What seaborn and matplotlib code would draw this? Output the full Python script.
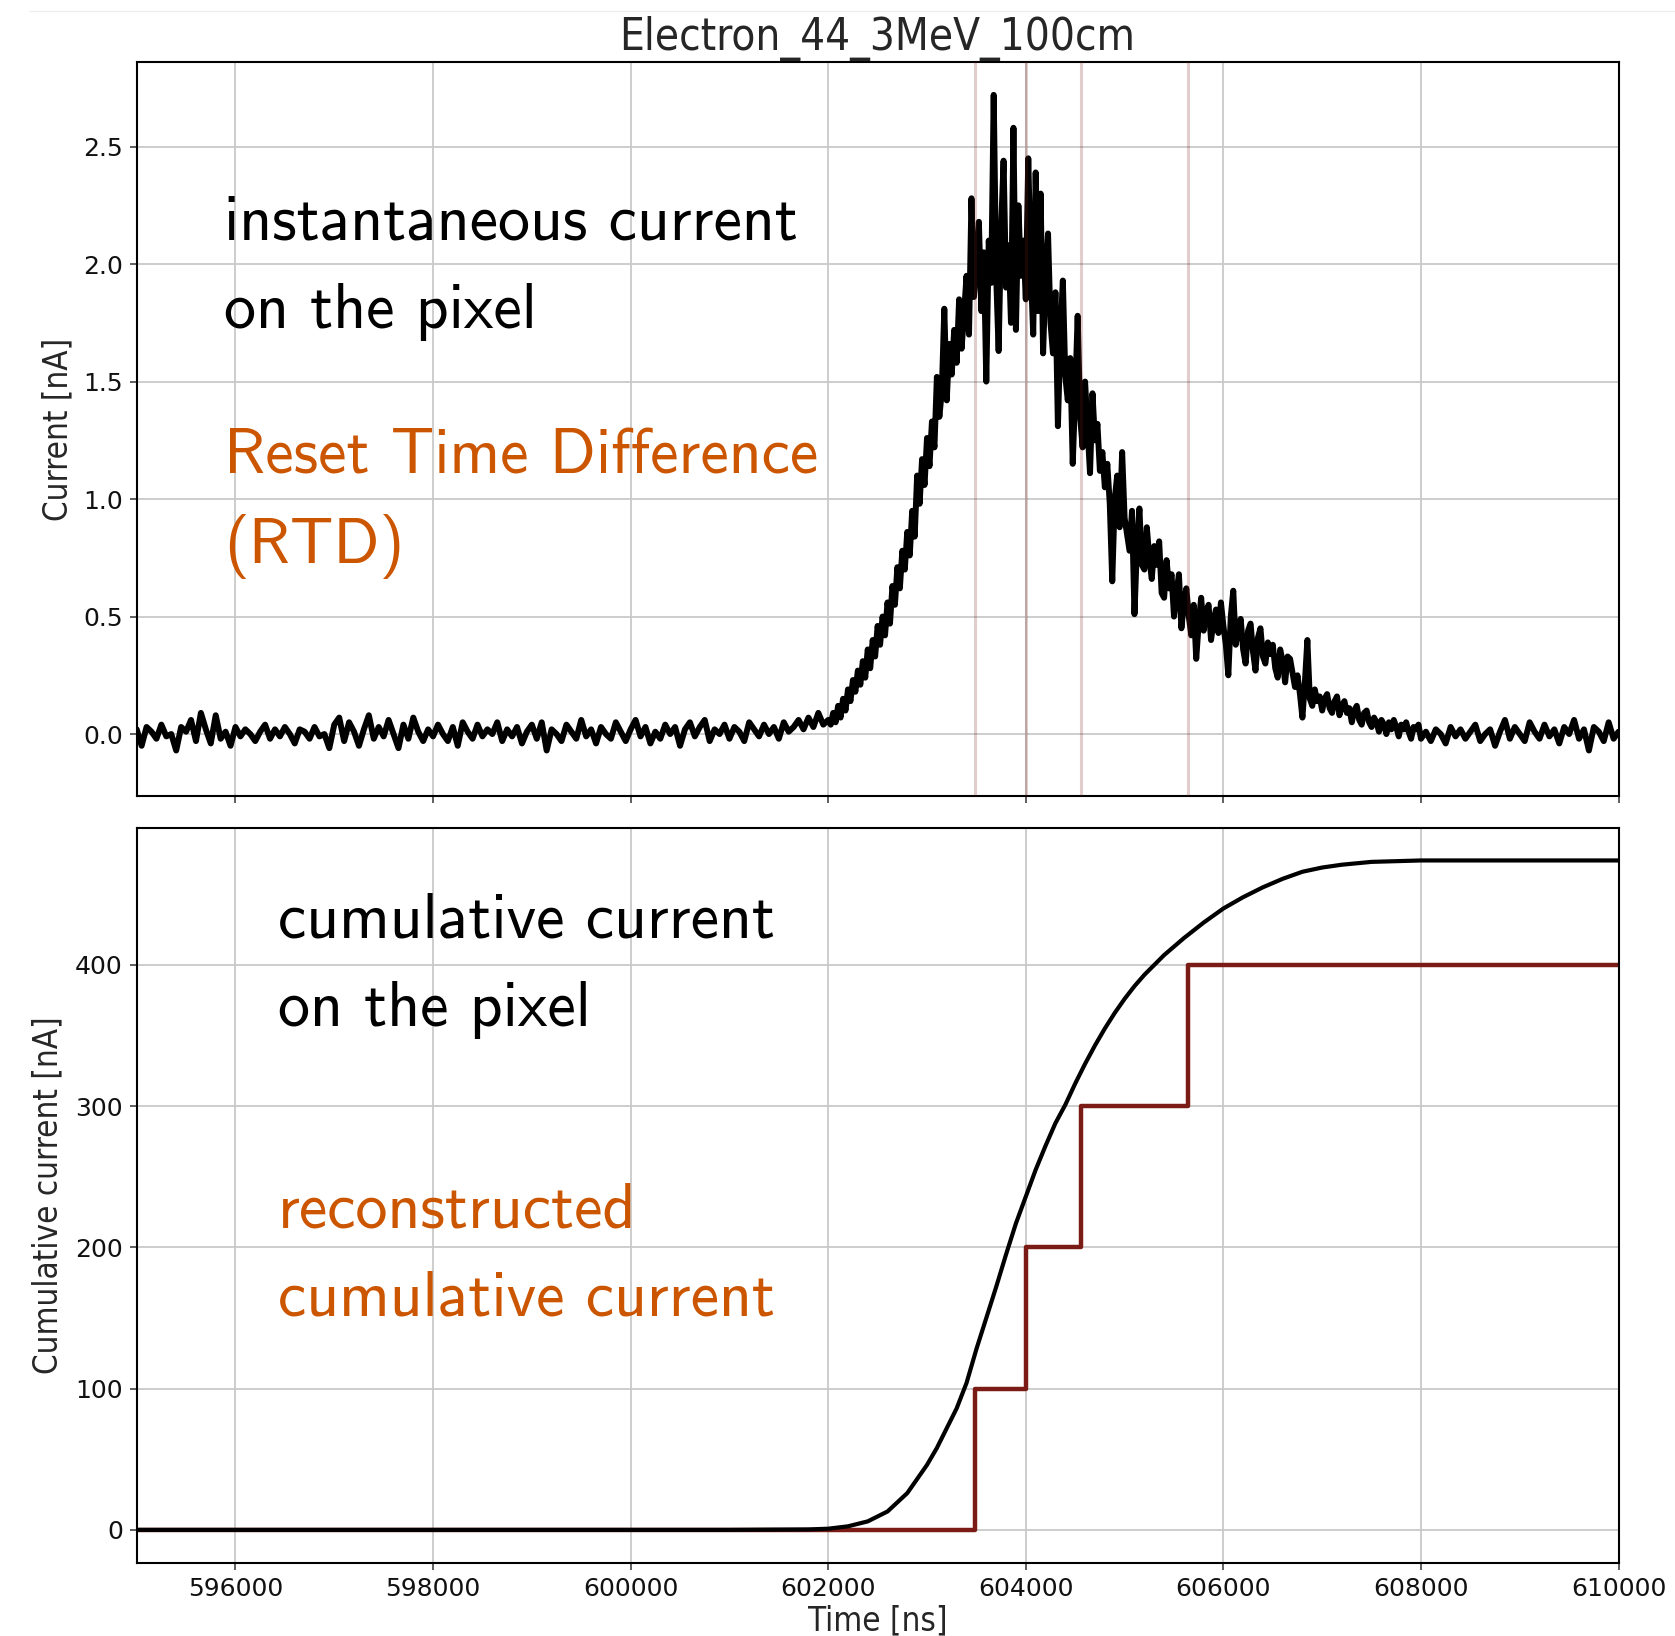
import numpy as np
import pandas as pd
import matplotlib
matplotlib.use("Agg")
import matplotlib.pyplot as plt
import seaborn as sns
from matplotlib.lines import Line2D

# ---------------------------------------------------------------- data
TITLE = "Electron_44_3MeV_100cm"

# sampling of the three parts of the trace [ns]
T_START = 595000      # first baseline sample
T_PULSE = 602000      # pulse part starts after this time
T_TAIL = 608000       # tail baseline starts after this time
DT_BASE = 50
DT_PULSE = 25

# instantaneous current [nA], quiet baseline before the pulse (595000 - 602000 ns)
current_before = [
    0.02, -0.05, 0.03, 0.01, -0.02, 0.04, -0.01, 0.00, -0.07, 0.03,
    0.01, 0.06, -0.03, 0.09, 0.02, -0.04, 0.08, -0.02, 0.01, -0.05,
    0.03, -0.01, 0.02, 0.00, -0.03, 0.01, 0.04, -0.02, 0.02, -0.01,
    0.03, 0.00, -0.04, 0.02, 0.01, -0.02, 0.03, -0.01, 0.00, -0.06,
    0.04, 0.07, -0.03, 0.05, 0.01, -0.05, 0.02, 0.08, -0.02, 0.03,
    -0.01, 0.06, 0.00, -0.06, 0.04, -0.02, 0.07, 0.01, -0.03, 0.02,
    -0.01, 0.04, 0.00, -0.03, 0.03, -0.05, 0.05, 0.01, -0.02, 0.04,
    -0.01, 0.02, 0.00, 0.05, -0.03, 0.02, -0.01, 0.03, -0.04, 0.01,
    0.04, -0.02, 0.05, -0.07, 0.02, 0.00, -0.03, 0.04, 0.01, -0.02,
    0.06, -0.01, 0.02, -0.04, 0.03, 0.00, -0.02, 0.05, 0.01, -0.03,
    0.02, 0.06, -0.01, 0.03, -0.04, 0.01, -0.02, 0.04, 0.00, 0.03,
    -0.05, 0.02, 0.05, -0.01, 0.03, 0.06, -0.03, 0.02, 0.00, 0.04,
    -0.02, 0.03, 0.01, -0.03, 0.05, 0.02, -0.01, 0.04, 0.00, 0.03,
    -0.02, 0.05, 0.01, 0.03, 0.06, 0.02, 0.07, 0.03, 0.09, 0.04,
    0.06,
]
# the pulse itself (602025 - 608000 ns, 25 ns steps)
current_pulse = [
    0.04, 0.09, 0.05, 0.12, 0.07, 0.15, 0.10, 0.19, 0.14, 0.23,
    0.18, 0.27, 0.21, 0.31, 0.24, 0.36, 0.28, 0.40, 0.33, 0.46,
    0.38, 0.50, 0.42, 0.56, 0.47, 0.63, 0.55, 0.71, 0.62, 0.78,
    0.70, 0.86, 0.76, 0.95, 0.84, 1.10, 0.98, 1.17, 1.06, 1.26,
    1.14, 1.33, 1.22, 1.52, 1.35, 1.46, 1.81, 1.42, 1.66, 1.53,
    1.72, 1.58, 1.85, 1.64, 1.79, 1.95, 1.70, 2.28, 1.86, 2.00,
    2.18, 1.80, 2.05, 1.50, 2.10, 1.92, 2.72, 1.95, 1.63, 2.15,
    2.44, 1.90, 2.08, 1.75, 2.58, 1.72, 2.25, 1.95, 2.10, 1.85,
    2.45, 1.98, 1.70, 2.39, 1.80, 2.30, 1.62, 1.95, 2.13, 1.75,
    1.62, 1.88, 1.31, 1.70, 1.93, 1.52, 1.42, 1.60, 1.15, 1.45,
    1.78, 1.35, 1.22, 1.50, 1.30, 1.11, 1.45, 1.25, 1.32, 1.12,
    1.20, 1.05, 1.15, 0.98, 0.65, 1.00, 1.10, 0.88, 1.20, 0.92,
    0.85, 0.78, 0.95, 0.51, 0.80, 0.96, 0.72, 0.70, 0.88, 0.75,
    0.66, 0.80, 0.72, 0.82, 0.60, 0.58, 0.74, 0.62, 0.68, 0.50,
    0.60, 0.68, 0.45, 0.56, 0.62, 0.50, 0.42, 0.55, 0.32, 0.47,
    0.58, 0.44, 0.52, 0.55, 0.40, 0.48, 0.53, 0.43, 0.56, 0.46,
    0.38, 0.25, 0.50, 0.61, 0.38, 0.45, 0.49, 0.36, 0.30, 0.44,
    0.47, 0.35, 0.27, 0.41, 0.45, 0.33, 0.30, 0.39, 0.34, 0.38,
    0.28, 0.24, 0.36, 0.31, 0.22, 0.33, 0.32, 0.26, 0.20, 0.25,
    0.17, 0.07, 0.22, 0.40, 0.15, 0.12, 0.19, 0.14, 0.16, 0.10,
    0.15, 0.17, 0.11, 0.09, 0.14, 0.16, 0.08, 0.12, 0.14, 0.09,
    0.11, 0.05, 0.10, 0.12, 0.06, 0.04, 0.09, 0.10, 0.05, 0.03,
    0.07, 0.05, 0.01, 0.06, 0.04, 0.00, 0.05, 0.02, 0.06, 0.03,
    -0.01, 0.04, 0.02, 0.05, 0.01, -0.02, 0.03, 0.02, 0.04, -0.02,
]
# baseline after the pulse (608050 - 610000 ns)
current_after = [
    0.01, -0.03, 0.02, 0.00, -0.04, 0.03, -0.01, 0.02, -0.02, 0.01,
    0.04, -0.03, 0.00, 0.02, -0.05, 0.01, 0.06, -0.02, 0.03, 0.00,
    -0.03, 0.05, 0.01, -0.02, 0.04, -0.01, 0.02, -0.04, 0.03, 0.00,
    0.06, -0.02, 0.02, -0.07, 0.03, 0.01, -0.03, 0.05, -0.02, 0.01,
]

# cumulative current on the pixel [nA]
cum_time = [595000, 601000, 601800, 602000, 602200, 602400, 602600, 602800,
            603000, 603100, 603200, 603300, 603400, 603500, 603600, 603700,
            603800, 603900, 604000, 604100, 604200, 604300, 604400, 604500,
            604600, 604700, 604800, 604900, 605000, 605100, 605200, 605300,
            605400, 605600, 605800, 606000, 606200, 606400, 606600, 606800,
            607000, 607200, 607500, 608000, 609000, 610000]
cum_value = [0, 0, 0.3, 0.8, 2.5, 6, 13, 26,
             46, 58, 72, 86, 104, 128, 150, 172,
             195, 217, 236, 255, 272, 288, 301, 316,
             330, 343, 355, 366, 376, 385, 393, 400,
             407, 419, 430, 440, 448, 455, 461, 466,
             469, 471, 473, 474, 474, 474]

# reset times of the pixel and the reconstructed cumulative levels
reset_times = [603485, 604000, 604556, 605637]
reset_levels = [100, 200, 300, 400]
t_range = (595000, 610000)

x_ticks = [596000, 598000, 600000, 602000, 604000, 606000, 608000, 610000]
current_ticks = [0.0, 0.5, 1.0, 1.5, 2.0, 2.5]
cum_ticks = [0, 100, 200, 300, 400]

# ---------------------------------------------------------------- frames
time = np.concatenate([
    T_START + DT_BASE * np.arange(len(current_before)),
    T_PULSE + DT_PULSE * np.arange(1, len(current_pulse) + 1),
    T_TAIL + DT_BASE * np.arange(1, len(current_after) + 1),
])
current = current_before + current_pulse + current_after
df_cur = pd.DataFrame({"time": time, "current": current})
df_cum = pd.DataFrame({"time": cum_time, "cum": cum_value})
df_rec = pd.DataFrame({"time": [t_range[0]] + reset_times + [t_range[1]],
                       "rec": [0] + reset_levels + [reset_levels[-1]]})

# ---------------------------------------------------------------- style
sns.set_theme(style="whitegrid")
plt.rcParams["font.family"] = ["DejaVu Sans"]

RED = "#7a1c15"
ORANGE = "#cc5500"
GRID = "#c9c9c9"
TEXT_FONT = "cmss10"
LABEL_SIZE = 23.8

W, H = 1675, 1636
fig = plt.figure(figsize=(W / 100, H / 100), dpi=100)
fig.patch.set_facecolor("white")

ax1 = fig.add_axes([0.0816, 0.5134, 0.8847, 0.4487])
ax2 = fig.add_axes([0.0816, 0.0446, 0.8847, 0.4493], sharex=ax1)

# top: instantaneous current with reset markers
sns.lineplot(data=df_cur, x="time", y="current", ax=ax1, color="black",
             linewidth=4.3, zorder=2)
for t in reset_times:
    ax1.axvline(t, color=RED, alpha=0.22, linewidth=2.2, zorder=3)

# bottom: cumulative and reconstructed cumulative current
sns.lineplot(data=df_cum, x="time", y="cum", ax=ax2, color="black",
             linewidth=3.0, zorder=3)
sns.lineplot(data=df_rec, x="time", y="rec", ax=ax2, color=RED,
             linewidth=3.2, drawstyle="steps-post", zorder=2)

for ax in (ax1, ax2):
    ax.set_xlim(*t_range)
    ax.grid(True, color=GRID, linewidth=1.3)
    ax.set_axisbelow(True)
    for s in ax.spines.values():
        s.set_visible(True)
        s.set_color("black")
        s.set_linewidth(1.5)
    ax.tick_params(axis="both", direction="out", length=5, width=1.2,
                   color="#444444", labelsize=18, pad=5,
                   bottom=True, left=True, labelcolor="#111111")

ax1.set_ylim(-0.264, 2.86)
ax1.set_yticks(current_ticks, labels=[f"{v:.1f}" for v in current_ticks])
ax1.set_xticks(x_ticks)
ax1.tick_params(labelbottom=False)
ax1.set_xlabel("")
ax1.set_ylabel("Current [nA]", fontsize=LABEL_SIZE, fontstretch="condensed")
ax1.yaxis.set_label_coords(-0.042, 0.5)
ax1.set_title(TITLE, fontsize=31.5, pad=9, fontstretch="condensed")

ax2.set_ylim(-23.5, 497)
ax2.set_yticks(cum_ticks, labels=[str(v) for v in cum_ticks])
ax2.set_xticks(x_ticks, labels=[str(v) for v in x_ticks])
ax2.set_xlabel("Time [ns]", fontsize=LABEL_SIZE, fontstretch="condensed")
ax2.xaxis.set_label_coords(0.5, -0.056)
ax2.set_ylabel("Cumulative current [nA]", fontsize=LABEL_SIZE,
               fontstretch="condensed")
ax2.yaxis.set_label_coords(-0.0486, 0.5)

# annotations
def note(x_px, base_px, s, color):
    fig.text(x_px / W, 1 - base_px / H, s, fontsize=46, family=TEXT_FONT,
             color=color, va="baseline", ha="left")

note(224, 240, "instantaneous current", "black")
note(224, 328, "on the pixel", "black")
note(224, 474, "Reset Time Difference", ORANGE)
note(224, 563, "(RTD)", ORANGE)

note(278, 938, "cumulative current", "black")
note(278, 1026, "on the pixel", "black")
note(278, 1227, "reconstructed", ORANGE)
note(278, 1315, "cumulative current", ORANGE)

# faint rule across the top of the page
fig.add_artist(Line2D([30 / W, 1.0], [1 - 11 / H] * 2, color="#ededed",
                      linewidth=1.0))

fig.savefig("out.png", dpi=100, facecolor="white")
